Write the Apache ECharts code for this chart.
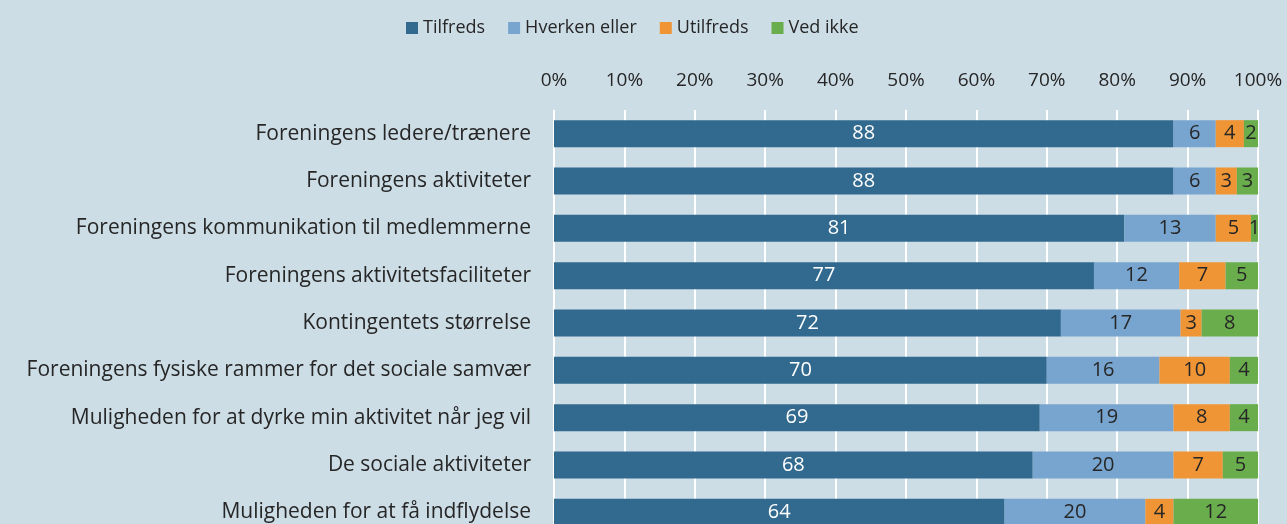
<!DOCTYPE html>
<html>
<head>
<meta charset="utf-8">
<script src="https://cdn.jsdelivr.net/npm/echarts@6/dist/echarts.min.js"></script>
<style>
  html, body { margin: 0; padding: 0; background: #cddde6; overflow: hidden; }
  #chart { width: 1287px; height: 536px; }
</style>
</head>
<body>
<div id="chart"></div>
<script>
// categories, top to bottom
var categories = [
  'Foreningens ledere/trænere',
  'Foreningens aktiviteter',
  'Foreningens kommunikation til medlemmerne',
  'Foreningens aktivitetsfaciliteter',
  'Kontingentets størrelse',
  'Foreningens fysiske rammer for det sociale samvær',
  'Muligheden for at dyrke min aktivitet når jeg vil',
  'De sociale aktiviteter',
  'Muligheden for at få indflydelse'
];

var tilfreds = [88, 88, 81, 76.7, 72, 70, 69, 68, 64];
var hverken = [6, 6, 13, 12.1, 17, 16, 19, 20, 20];
var utilfreds = [4, 3, 5, 6.6, 3, 10, 8, 7, 4];
var vedIkke = [2, 3, 1, 4.6, 8, 4, 4, 5, 12];

var tickLabels = ['0%', '10%', '20%', '30%', '40%', '50%', '60%', '70%', '80%', '90%', '100%'];

var fontFam = 'Open Sans';
var chart = echarts.init(document.getElementById('chart'));

function makeSeries(name, data, color, labelColor) {
  return {
    name: name,
    type: 'bar',
    stack: 'total',
    barWidth: 27,
    data: data,
    itemStyle: { color: color },
    label: {
      show: true,
      position: 'inside',
      color: labelColor,
      fontFamily: fontFam,
      fontSize: 20,
      formatter: function (p) { return Math.round(p.value); }
    }
  };
}

var option = {
  backgroundColor: '#cddde6',
  legend: {
    top: 14,
    left: 401,
    itemWidth: 12,
    itemHeight: 12,
    itemGap: 23,
    icon: 'rect',
    textStyle: { color: '#262626', fontFamily: fontFam, fontSize: 18 }
  },
  grid: {
    left: 554,
    right: 29,
    top: 110,
    bottom: 0
  },
  xAxis: {
    type: 'value',
    position: 'top',
    min: 0,
    max: 100,
    interval: 10,
    axisLine: { show: false },
    axisTick: { show: false },
    axisLabel: {
      color: '#262626',
      fontFamily: fontFam,
      fontSize: 19,
      margin: 20,
      formatter: function (v) { return tickLabels[v / 10]; }
    },
    splitLine: { lineStyle: { color: '#ffffff', width: 2 } }
  },
  yAxis: {
    type: 'category',
    inverse: true,
    data: categories,
    axisLine: { show: false },
    axisTick: { show: false },
    axisLabel: {
      color: '#262626',
      fontFamily: fontFam,
      fontSize: 21,
      margin: 23
    }
  },
  series: [
    makeSeries('Tilfreds', tilfreds, '#31698f', '#ffffff'),
    makeSeries('Hverken eller', hverken, '#77a5cf', '#262626'),
    makeSeries('Utilfreds', utilfreds, '#ef9535', '#262626'),
    makeSeries('Ved ikke', vedIkke, '#69ad4d', '#262626')
  ]
};

chart.setOption(option);
</script>
</body>
</html>
